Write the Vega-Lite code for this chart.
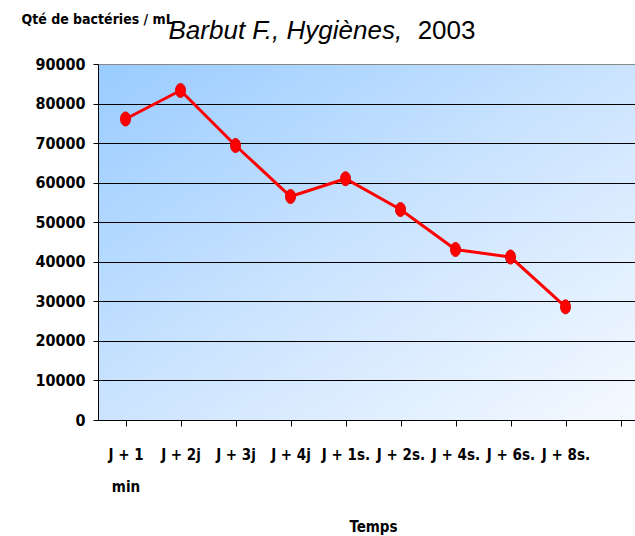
{
  "$schema": "https://vega.github.io/schema/vega-lite/v6.json",
  "autosize": "none",
  "width": 550,
  "height": 356,
  "padding": {"left": 98, "top": 64, "right": 0, "bottom": 116},
  "background": "white",
  "config": {
    "font": "Liberation Sans Narrow, Arial Narrow, DejaVu Sans Condensed, sans-serif",
    "view": {
      "stroke": "#888888",
      "strokeWidth": 1,
      "fill": {
        "gradient": "linear",
        "x1": 0, "y1": 0, "x2": 1, "y2": 1,
        "stops": [
          {"offset": 0, "color": "#99CCFF"},
          {"offset": 0.5, "color": "#CCE4FF"},
          {"offset": 1, "color": "#F6FAFF"}
        ]
      }
    },
    "axis": {
      "labelColor": "black",
      "titleColor": "black",
      "domainColor": "black",
      "tickColor": "black",
      "labelFontWeight": "bold",
      "titleFontWeight": "bold"
    }
  },
  "data": {
    "values": [
      {"temps": "J + 1 min", "qte": 76100},
      {"temps": "J + 2j", "qte": 83300},
      {"temps": "J + 3j", "qte": 69400},
      {"temps": "J + 4j", "qte": 56500},
      {"temps": "J + 1s.", "qte": 61000},
      {"temps": "J + 2s.", "qte": 53200},
      {"temps": "J + 4s.", "qte": 43100},
      {"temps": "J + 6s.", "qte": 41200},
      {"temps": "J + 8s.", "qte": 28600}
    ]
  },
  "layer": [
    {
      "mark": {"type": "line", "color": "#FF0000", "strokeWidth": 3},
      "encoding": {
        "x": {
          "field": "temps",
          "type": "nominal",
          "sort": null,
          "scale": {
            "domain": ["J + 1 min", "J + 2j", "J + 3j", "J + 4j", "J + 1s.", "J + 2s.", "J + 4s.", "J + 6s.", "J + 8s.", " "],
            "paddingInner": 0,
            "paddingOuter": 0
          },
          "axis": {
            "orient": "bottom",
            "title": "Temps",
            "titleFontSize": 15,
            "titleY": 111,
            "titleBaseline": "alphabetic",
            "labelAngle": 0,
            "labelFontSize": 15,
            "labelPadding": 21,
            "labelLineHeight": 32,
            "labelExpr": "datum.label == 'J + 1 min' ? ['J + 1', 'min'] : datum.label",
            "bandPosition": 0,
            "tickSize": 6,
            "domainWidth": 1,
            "tickWidth": 1
          }
        },
        "y": {
          "field": "qte",
          "type": "quantitative",
          "scale": {"domain": [0, 90000], "nice": false},
          "axis": {
            "orient": "left",
            "values": [0, 10000, 20000, 30000, 40000, 50000, 60000, 70000, 80000, 90000],
            "format": "d",
            "grid": true,
            "gridColor": {"condition": {"test": "datum.value == 90000", "value": "#888888"}, "value": "black"},
            "gridOpacity": 1,
            "gridWidth": 1,
            "tickSize": 5,
            "labelPadding": 8,
            "labelFontSize": 16,
            "title": "Qté de bactéries / mL",
            "titleFontSize": 14,
            "titleAngle": 0,
            "titleAlign": "left",
            "titleBaseline": "alphabetic",
            "titleX": -77,
            "titleY": -41
          }
        }
      }
    },
    {
      "mark": {"type": "point", "filled": true, "color": "#FF0000", "opacity": 1, "size": 196,
               "shape": "M-0.71,0 A0.71,1 0 1,0 0.71,0 A0.71,1 0 1,0 -0.71,0 Z",
               "stroke": "#E00000", "strokeWidth": 1},
      "encoding": {
        "x": {
          "field": "temps",
          "type": "nominal",
          "sort": null,
          "axis": {
            "orient": "top",
            "title": "2003",
            "titleFont": "Liberation Sans, Arial, sans-serif",
            "titleFontWeight": "normal",
            "titleFontSize": 26,
            "titleAlign": "right",
            "titleBaseline": "alphabetic",
            "titleX": 377,
            "titleY": -26,
            "labels": false,
            "ticks": false,
            "domain": false
          }
        },
        "y": {
          "field": "qte",
          "type": "quantitative",
          "axis": {
            "orient": "right",
            "title": "Barbut F., Hygiènes,",
            "titleFont": "Liberation Sans, Arial, sans-serif",
            "titleFontWeight": "normal",
            "titleFontStyle": "italic",
            "titleFontSize": 26,
            "titleAngle": 0,
            "titleAlign": "left",
            "titleBaseline": "alphabetic",
            "titleX": -480,
            "titleY": -26,
            "labels": false,
            "ticks": false,
            "domain": false,
            "grid": false
          }
        }
      }
    }
  ],
  "resolve": {"axis": {"x": "independent", "y": "independent"}}
}
